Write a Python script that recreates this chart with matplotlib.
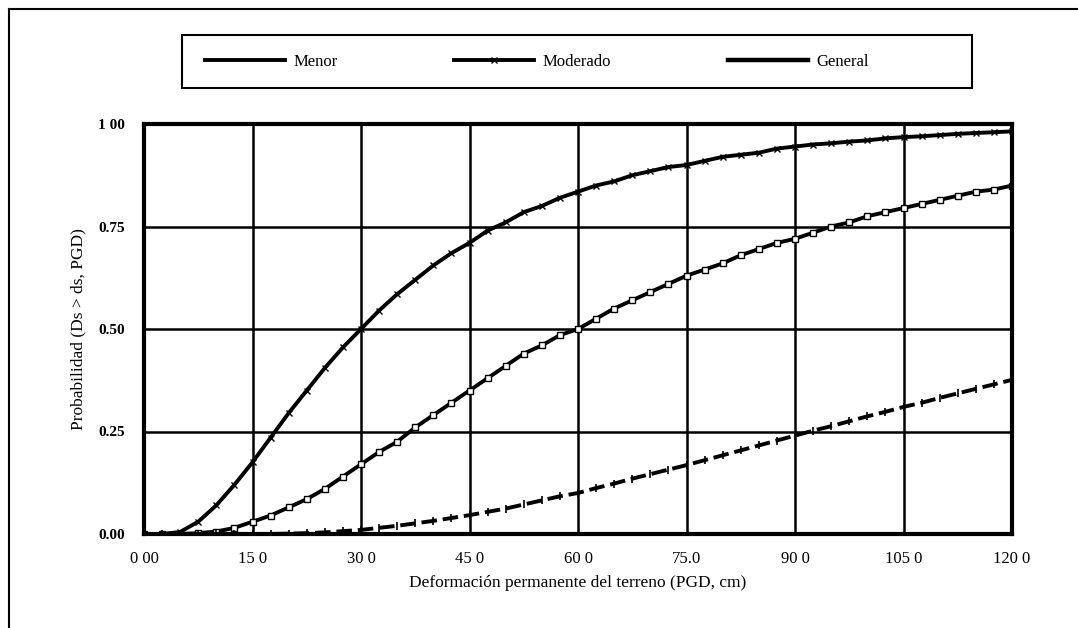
import matplotlib
matplotlib.use("Agg")
import matplotlib.pyplot as plt
from matplotlib.lines import Line2D
from matplotlib.patches import Rectangle

plt.rcParams['font.family'] = ['Liberation Serif', 'DejaVu Serif']

# Data (PGD in cm, probability)
pgd = [0, 2.5, 5, 7.5, 10, 12.5, 15, 17.5, 20, 22.5, 25, 27.5, 30, 32.5, 35, 37.5,
       40, 42.5, 45, 47.5, 50, 52.5, 55, 57.5, 60, 62.5, 65, 67.5, 70, 72.5, 75, 77.5,
       80, 82.5, 85, 87.5, 90, 92.5, 95, 97.5, 100, 102.5, 105, 107.5, 110, 112.5,
       115, 117.5, 120]

menor = [0.0, 0.0, 0.005, 0.03, 0.07, 0.12, 0.175, 0.235, 0.295, 0.35, 0.405, 0.455,
         0.50, 0.545, 0.585, 0.62, 0.655, 0.685, 0.71, 0.74, 0.76, 0.785, 0.80, 0.82,
         0.835, 0.85, 0.86, 0.875, 0.885, 0.895, 0.90, 0.91, 0.92, 0.925, 0.93, 0.94,
         0.945, 0.95, 0.953, 0.957, 0.96, 0.965, 0.968, 0.97, 0.973, 0.976, 0.978,
         0.98, 0.982]

moderado = [0.0, 0.0, 0.0, 0.002, 0.006, 0.015, 0.03, 0.045, 0.065, 0.085, 0.11, 0.14,
            0.17, 0.20, 0.225, 0.26, 0.29, 0.32, 0.35, 0.38, 0.41, 0.44, 0.46, 0.485,
            0.50, 0.525, 0.55, 0.57, 0.59, 0.61, 0.63, 0.645, 0.66, 0.68, 0.695, 0.71,
            0.72, 0.735, 0.75, 0.76, 0.775, 0.785, 0.795, 0.805, 0.815, 0.825, 0.835,
            0.84, 0.85]

general = [0.0, 0.0, 0.0, 0.0, 0.0, 0.0, 0.0, 0.0, 0.001, 0.002, 0.004, 0.007, 0.01,
           0.015, 0.02, 0.026, 0.032, 0.039, 0.046, 0.054, 0.062, 0.072, 0.082, 0.092,
           0.10, 0.112, 0.123, 0.135, 0.146, 0.157, 0.168, 0.18, 0.192, 0.204, 0.216,
           0.228, 0.24, 0.252, 0.263, 0.275, 0.287, 0.298, 0.31, 0.32, 0.332, 0.343,
           0.354, 0.365, 0.376]

xticks = [0, 15, 30, 45, 60, 75, 90, 105, 120]
xtick_labels = ["0 00", "15 0", "30 0", "45 0", "60 0", "75.0", "90 0", "105 0", "120 0"]
yticks = [0.0, 0.25, 0.5, 0.75, 1.0]
ytick_labels = ["0.00", "0.25", "0.50", "0.75", "1 00"]

W, H = 1078, 628
fig = plt.figure(figsize=(W / 100, H / 100), dpi=100)
fig.patch.set_facecolor('white')

L, R, T, B = 144, 1012, 124, 534
ax = fig.add_axes([L / W, 1 - B / H, (R - L) / W, (B - T) / H])

ax.plot(pgd, menor, color='black', lw=2.8, marker='x', ms=5, mew=1.0, label='Menor')
ax.plot(pgd, moderado, color='black', lw=2.8, marker='s', ms=5, mew=1.0,
        mfc='white', label='Moderado')
ax.plot(pgd, general, color='black', lw=2.8, ls=(0, (4, 1.5)), marker='|',
        ms=6, mew=1.2, label='General')

ax.set_xlim(0, 120)
ax.set_ylim(0, 1)
ax.set_xticks(xticks)
ax.set_xticklabels(xtick_labels, fontsize=12)
ax.set_yticks(yticks)
ax.set_yticklabels(ytick_labels, fontsize=11, fontweight='bold')
ax.tick_params(length=0, pad=14)
ax.tick_params(axis='x', pad=12)
ax.grid(True, color='black', lw=1.8)
ax.set_axisbelow(True)
for s in ax.spines.values():
    s.set_linewidth(3)

ax.set_xlabel("Deformación permanente del terreno (PGD, cm)", fontsize=12.5, labelpad=6)
ax.set_ylabel("Probabilidad (Ds > ds, PGD)", fontsize=12.5, labelpad=8)

# Legend box at the top
lx0, ly0, lx1, ly1 = 182, 35, 972, 88
fig.add_artist(Rectangle((lx0 / W, 1 - ly1 / H), (lx1 - lx0) / W, (ly1 - ly0) / H,
                         transform=fig.transFigure, fill=False, edgecolor='black',
                         lw=1.5))
leg = fig.legend(handles=[Line2D([], [], color='black', lw=2.8),
                          Line2D([], [], color='black', lw=2.8, marker='x', ms=5,
                                 markevery=[1]),
                          Line2D([], [], color='black', lw=3.2)],
                 labels=['Menor', 'Moderado', 'General'],
                 loc='center left', ncol=3,
                 bbox_to_anchor=(190 / W, 1 - 62 / H),
                 fontsize=12, handlelength=4.8, handletextpad=0.5,
                 frameon=False, columnspacing=7.0)

# Outer frame (left and top lines)
fig.add_artist(Line2D([9 / W, 9 / W], [0, 1 - 9 / H], color='black', lw=1.5,
                      transform=fig.transFigure))
fig.add_artist(Line2D([9 / W, 1], [1 - 9 / H, 1 - 9 / H], color='black', lw=1.5,
                      transform=fig.transFigure))

fig.savefig("out.png", dpi=100)
